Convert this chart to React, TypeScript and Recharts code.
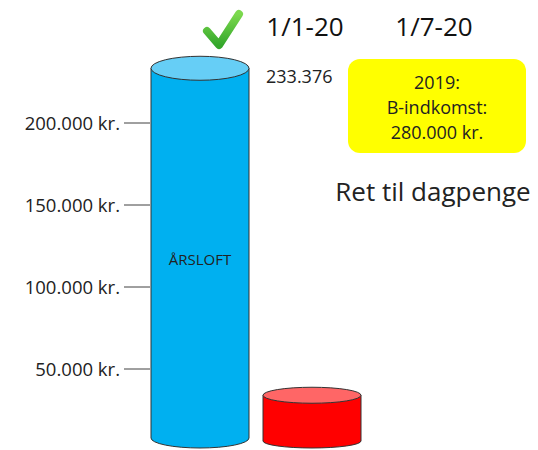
import React from "react";
import { BarChart, Bar, XAxis, YAxis, LabelList } from "recharts";

// værdier
const categories = ["2020"];
const aarsloft = [233376];
const dagpenge = [34000];
const yTicks = [50000, 100000, 150000, 200000];
const periodLabels = ["1/1-20", "1/7-20"];
const noteLines = ["2019:", "B-indkomst:", "280.000 kr."];
const sideNote = "Ret til dagpenge";
const innerLabel = "ÅRSLOFT";

const data = categories.map((c, i) => ({ name: c, aarsloft: aarsloft[i], dagpenge: dagpenge[i] }));

const FONT = "'Open Sans', sans-serif";

const fmt = (v: number) => String(v).replace(/\B(?=(\d{3})+(?!\d))/g, ".");

// cylinder-form til søjlerne
const makeCylinder = (top: string, ryTop: number, ryBottom: number) => (props: any) => {
  const { x, y, width, height, fill } = props;
  if (!width || height == null) return null;
  const rx = width / 2;
  const cx = x + rx;
  const by = y + height - ryBottom - 3;
  const d = `M${x},${y} L${x},${by} A${rx},${ryBottom} 0 0 0 ${x + width},${by} L${x + width},${y} Z`;
  return (
    <g>
      <path d={d} fill={fill} stroke="#333" strokeWidth={1} />
      <ellipse cx={cx} cy={y} rx={rx} ry={ryTop} fill={top} stroke="#333" strokeWidth={1} />
    </g>
  );
};

const BlueCylinder = makeCylinder("#66CEF6", 12, 10);
const RedCylinder = makeCylinder("#FF6666", 8, 7);

const ValueLabel = (p: any) => (
  <text x={p.x + p.width + 17} y={p.y + 15} fontSize={18} fill="#222" fontFamily={FONT}>
    {fmt(p.value)}
  </text>
);

const Annotations = () => (
  <svg width={538} height={450} style={{ position: "absolute", left: 0, top: 0, pointerEvents: "none" }}>
    <defs>
      <linearGradient id="chk" x1="0" y1="0" x2="0" y2="1">
        <stop offset="0%" stopColor="#7CD94E" />
        <stop offset="100%" stopColor="#34A72B" />
      </linearGradient>
    </defs>
    <polyline
      points="207,31 219,45 239,14"
      fill="none"
      stroke="url(#chk)"
      strokeWidth={8}
      strokeLinecap="round"
      strokeLinejoin="round"
    />
    {periodLabels.map((t, i) => (
      <text key={t} x={305 + i * 129} y={36} textAnchor="middle" fontSize={26} fill="#111" fontFamily={FONT}>
        {t}
      </text>
    ))}
    <rect x={348} y={59} width={178} height={94} rx={12} fill="#FFFF00" />
    {noteLines.map((t, i) => (
      <text key={t} x={437} y={89 + i * 25} textAnchor="middle" fontSize={18} fill="#222" fontFamily={FONT}>
        {t}
      </text>
    ))}
    <text x={433} y={201} textAnchor="middle" fontSize={26} fill="#222" fontFamily={FONT}>
      {sideNote}
    </text>
  </svg>
);

export default function App() {
  return (
    <div style={{ position: "absolute", left: 0, top: 0, width: 538, height: 450, overflow: "hidden", background: "#fff" }}>
      <BarChart
        width={538}
        height={460}
        data={data}
        margin={{ top: 41, right: 177, bottom: 9, left: 0 }}
        barGap={14}
        barCategoryGap={0}
      >
        <XAxis dataKey="name" hide />
        <YAxis
          width={150}
          domain={[0, 250000]}
          ticks={yTicks}
          tickFormatter={(v: number) => `${fmt(v)} kr.`}
          axisLine={false}
          tickSize={26}
          tickMargin={4}
          tickLine={{ stroke: "#404040" }}
          tick={{ fill: "#222", fontSize: 18.5, fontFamily: FONT }}
        />
        <Bar dataKey="aarsloft" barSize={98} fill="#00B0F0" shape={BlueCylinder} isAnimationActive={false}>
          <LabelList dataKey="aarsloft" content={ValueLabel} />
          <LabelList
            dataKey="aarsloft"
            position="center"
            formatter={() => innerLabel}
            style={{ fill: "#222", fontSize: 15, fontFamily: FONT }}
          />
        </Bar>
        <Bar dataKey="dagpenge" barSize={98} fill="#FF0000" shape={RedCylinder} isAnimationActive={false} />
      </BarChart>
      <Annotations />
    </div>
  );
}
